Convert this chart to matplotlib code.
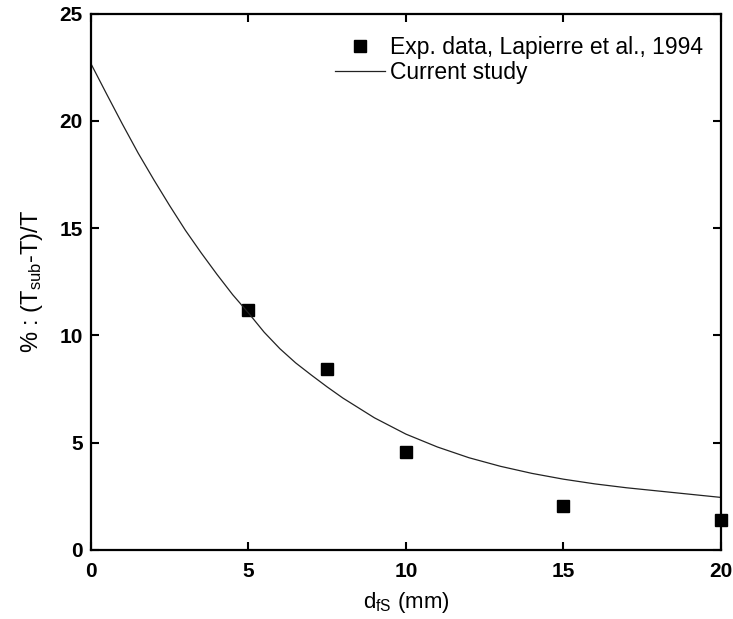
import numpy as np
import matplotlib.pyplot as plt

plt.rcParams['font.family'] = ['Liberation Sans', 'DejaVu Sans']
plt.rcParams['mathtext.fontset'] = 'custom'
plt.rcParams['mathtext.rm'] = 'Liberation Sans'
plt.rcParams['mathtext.it'] = 'Liberation Sans'

# experimental data (Lapierre et al., 1994)
exp_x = [5, 7.5, 10, 15, 20]
exp_y = [11.2, 8.45, 4.55, 2.06, 1.40]

# current study curve
model_x = [0, 0.5, 1, 1.5, 2, 2.5, 3, 3.5, 4, 4.5, 5, 5.5, 6, 6.5, 7, 7.5,
           8, 9, 10, 11, 12, 13, 14, 15, 16, 17, 18, 19, 20]
model_y = [22.67, 21.25, 19.85, 18.5, 17.25, 16.05, 14.9, 13.85, 12.85, 11.9,
           11.05, 10.15, 9.38, 8.72, 8.15, 7.6, 7.08, 6.16, 5.4, 4.8, 4.3,
           3.9, 3.57, 3.3, 3.08, 2.9, 2.75, 2.6, 2.45]

fig = plt.figure(figsize=(7.33, 6.19), dpi=100)
ax = fig.add_axes([0.124, 0.1115, 0.8596, 0.8665])

ax.plot(exp_x, exp_y, 's', color='black', markersize=9, clip_on=False,
        label='Exp. data, Lapierre et al., 1994')
ax.plot(model_x, model_y, '-', color='#222222', linewidth=0.9,
        label='Current study')

ax.set_xlim(0, 20)
ax.set_ylim(0, 25)
ax.set_xticks([0, 5, 10, 15, 20])
ax.set_yticks([0, 5, 10, 15, 20, 25])

for s in ax.spines.values():
    s.set_linewidth(1.6)
ax.tick_params(direction='in', top=True, right=True, length=6, width=1.5,
               labelsize=15)
ax.tick_params(axis='x', pad=9)
ax.tick_params(axis='y', pad=6)
for lab in ax.get_xticklabels() + ax.get_yticklabels():
    lab.set_fontweight('bold')

ax.set_xlabel(r'd$_{\mathrm{fS}}$ (mm)', fontsize=16, labelpad=6)
ax.set_ylabel(r'% : (T$_{\mathrm{sub}}$-T)/T', fontsize=17, labelpad=10)

ax.legend(loc='upper right', frameon=False, fontsize=16.5, handlelength=2.2,
          handletextpad=0.2, borderaxespad=0.3, labelspacing=0.1,
          bbox_to_anchor=(0.997, 0.989))

fig.savefig('out.png', dpi=100)
